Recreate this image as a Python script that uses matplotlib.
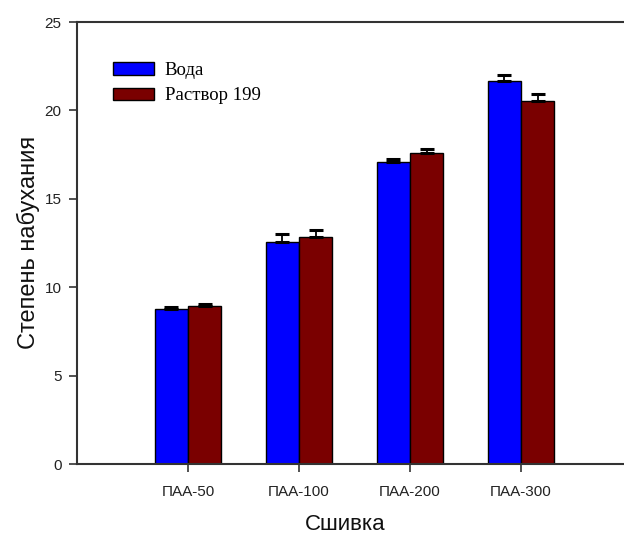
import matplotlib
matplotlib.use("Agg")
import matplotlib.pyplot as plt
import numpy as np

categories = ["ПАА-50", "ПАА-100", "ПАА-200", "ПАА-300"]
water = [8.78, 12.57, 17.08, 21.68]
water_err = [0.09, 0.42, 0.19, 0.30]
sol199 = [8.95, 12.84, 17.59, 20.55]
sol199_err = [0.12, 0.41, 0.24, 0.39]
series_names = ["Вода", "Раствор 199"]
yticks = [0, 5, 10, 15, 20, 25]

W, H = 624, 536
fig = plt.figure(figsize=(W / 100, H / 100), dpi=100)
x0, x1 = 77, 632
y0, y1 = 464, 22
ax = fig.add_axes([x0 / W, 1 - y0 / H, (x1 - x0) / W, (y0 - y1) / H])

x = np.arange(len(categories))
bw = 0.3
err_kw = dict(ecolor="black", elinewidth=1.3, capsize=5, capthick=2.2)
ax.bar(x - bw / 2, water, bw, color="#0000ff", edgecolor="black", linewidth=1,
       yerr=[np.zeros(len(water)), water_err], error_kw=err_kw, label=series_names[0], zorder=2)
ax.bar(x + bw / 2, sol199, bw, color="#7a0000", edgecolor="black", linewidth=1,
       yerr=[np.zeros(len(sol199)), sol199_err], error_kw=err_kw, label=series_names[1], zorder=2)

ax.set_xlim(-1, 4)
ax.set_ylim(0, 25)
ax.set_yticks(yticks)
ax.set_xticks(x)
ax.set_xticklabels(categories)

for s in ["left", "bottom", "top"]:
    ax.spines[s].set_color("#333333")
    ax.spines[s].set_linewidth(1.5)
ax.spines["right"].set_visible(False)

ax.tick_params(axis="both", direction="out", length=6, width=1.2, color="#333333",
               labelsize=11, labelcolor="#222222")
ax.tick_params(axis="y", pad=5)
ax.tick_params(axis="x", pad=9)
for lab in ax.get_xticklabels() + ax.get_yticklabels():
    lab.set_family("Liberation Sans")

ax.set_xlabel("Сшивка", fontsize=16, family="Liberation Sans", color="#111111")
ax.set_ylabel("Степень набухания", fontsize=17, family="Liberation Sans", color="#111111")
ax.xaxis.set_label_coords((345 - x0) / (x1 - x0), -(525 - y0) / (y0 - y1))
ax.xaxis.label.set_va("center")
ax.yaxis.set_label_coords(-(x0 - 28) / (x1 - x0), (y0 - 242) / (y0 - y1))
ax.yaxis.label.set_va("center")

leg = ax.legend(loc="upper left", bbox_to_anchor=(113 / W, 1 - 62 / H),
                bbox_transform=fig.transFigure, frameon=False,
                prop={"family": "Liberation Serif", "size": 13.5},
                handlelength=2.2, handleheight=0.65, handletextpad=0.55,
                labelspacing=0.45, borderpad=0, borderaxespad=0)
for p in leg.get_patches():
    p.set_edgecolor("black")
    p.set_linewidth(1)

fig.savefig("out.png", dpi=100)
